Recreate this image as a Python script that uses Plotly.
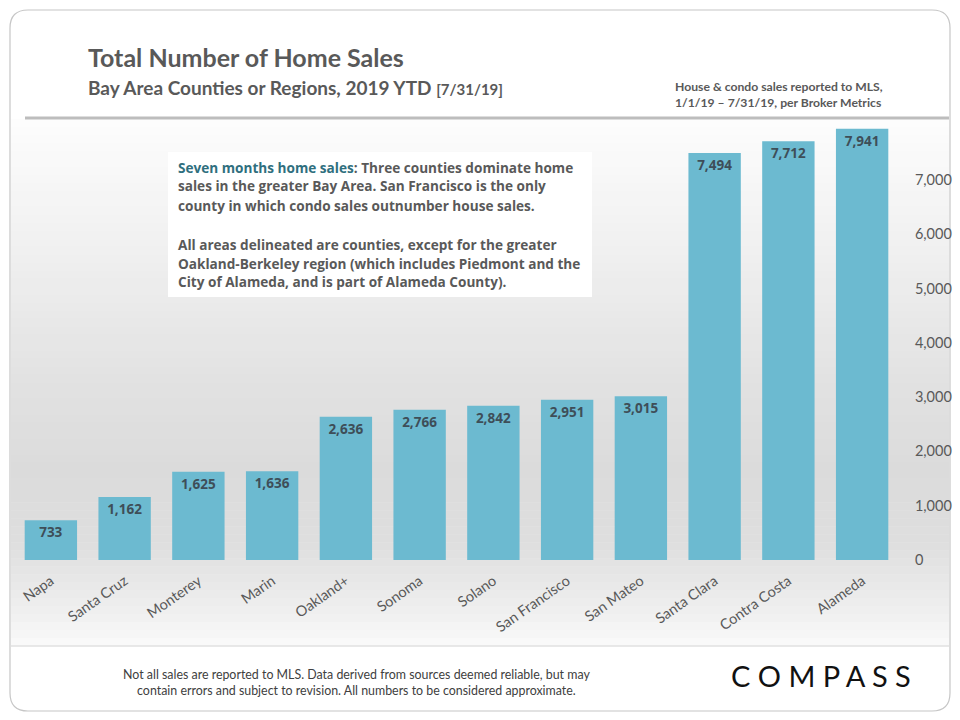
import plotly.graph_objects as go

# data
regions = ['Napa', 'Santa Cruz', 'Monterey', 'Marin', 'Oakland+', 'Sonoma', 'Solano',
           'San Francisco', 'San Mateo', 'Santa Clara', 'Contra Costa', 'Alameda']
sales = [733, 1162, 1625, 1636, 2636, 2766, 2842, 2951, 3015, 7494, 7712, 7941]
y_ticks = [0, 1000, 2000, 3000, 4000, 5000, 6000, 7000]

note_lines = [
    '<span style="color:#2f6f7e">Seven months home sales</span>: Three counties dominate home',
    'sales in the greater Bay Area. San Francisco is the only',
    'county in which condo sales outnumber house sales.',
    'All areas delineated are counties, except for the greater',
    'Oakland-Berkeley region (which includes Piedmont and the',
    'City of Alameda, and is part of Alameda County).',
]
note_rows = [167, 186, 205, 244, 263, 282]

W, H = 960, 720
GREY = '#595959'
FONT = 'Lato, Open Sans, sans-serif'


def px(x):
    return x / W


def py(y):
    return 1 - y / H


fig = go.Figure()
fig.add_trace(go.Bar(
    x=regions, y=sales,
    marker=dict(color='#6cbad0', line=dict(width=0)),
    text=['{:,}'.format(v) for v in sales],
    textposition='inside', insidetextanchor='end', textangle=0,
    constraintext='none',
    textfont=dict(family='Open Sans, sans-serif', size=13.5, color='#3e4e58', weight='bold'),
    cliponaxis=False,
))

shapes = []

# card outline with rounded corners
x0, x1, y0, y1, r = px(10), px(950), py(10), py(711), 18
rx, ry = r / W, r / H
shapes.append(dict(
    type='path', xref='paper', yref='paper', layer='below',
    path=(f'M {x0 + rx},{y0} L {x1 - rx},{y0} Q {x1},{y0} {x1},{y0 - ry} '
          f'L {x1},{y1 + ry} Q {x1},{y1} {x1 - rx},{y1} L {x0 + rx},{y1} '
          f'Q {x0},{y1} {x0},{y1 + ry} L {x0},{y0 - ry} Q {x0},{y0} {x0 + rx},{y0} Z'),
    line=dict(color='#c6c6c6', width=1.2), fillcolor='white'))

# soft grey background gradient behind the bars (white -> grey -> white)
stops = [(118, 253), (250, 240), (380, 226), (470, 219), (540, 222), (600, 236), (646, 250)]
n = 66
top, bot = 119, 646
for i in range(n):
    ya = top + (bot - top) * i / n
    yb = top + (bot - top) * (i + 1) / n
    ym = (ya + yb) / 2
    for (s0, c0), (s1, c1) in zip(stops[:-1], stops[1:]):
        if s0 <= ym <= s1:
            c = round(c0 + (c1 - c0) * (ym - s0) / (s1 - s0))
            break
    shapes.append(dict(type='rect', xref='paper', yref='paper', layer='below',
                       x0=px(11), x1=px(949), y0=py(yb + 0.6), y1=py(ya),
                       line=dict(width=0), fillcolor=f'rgb({c},{c},{c})'))

# header and footer rules
shapes.append(dict(type='line', xref='paper', yref='paper', layer='below',
                   x0=px(25), x1=px(949), y0=py(118), y1=py(118),
                   line=dict(color='#bdbdbd', width=3)))
shapes.append(dict(type='line', xref='paper', yref='paper', layer='below',
                   x0=px(11), x1=px(949), y0=py(646), y1=py(646),
                   line=dict(color='#d4d4d4', width=1)))

# white commentary box
shapes.append(dict(type='rect', xref='paper', yref='paper', layer='below',
                   x0=px(168), x1=px(592), y0=py(297), y1=py(152),
                   line=dict(width=0), fillcolor='white'))

annotations = [
    dict(text='<b>Total Number of Home Sales</b>', x=px(86), y=py(57),
         font=dict(size=25, color=GREY)),
    dict(text='<b>Bay Area Counties or Regions, 2019 YTD </b><span style="font-size:15px"><b>[7/31/19]</b></span>',
         x=px(86), y=py(87), font=dict(size=19, color=GREY)),
    dict(text='<b>House &amp; condo sales reported to MLS,<br>1/1/19 \u2013 7/31/19, per Broker Metrics</b>',
         x=px(673), y=py(95), font=dict(size=12.2, color=GREY)),
    dict(text=('Not all sales are reported to MLS. Data derived from sources deemed reliable, but may<br>'
               'contain errors and subject to revision. All numbers to be considered approximate.'),
         x=px(356), y=py(682), xanchor='center', align='center',
         font=dict(size=12.4, color='#404040')),
    dict(text='C O M P A S S', x=px(821), y=py(675), xanchor='center',
         font=dict(size=29, color='#111111', family='Lato, sans-serif')),
]
for line, row in zip(note_lines, note_rows):
    annotations.append(dict(text='<b>' + line + '</b>', x=px(176), y=py(row),
                            font=dict(size=13.6, color=GREY, family='Open Sans, sans-serif')))
for a in annotations:
    a.setdefault('xref', 'paper')
    a.setdefault('yref', 'paper')
    a.setdefault('xanchor', 'left')
    a.setdefault('yanchor', 'middle')
    a.setdefault('align', 'left')
    a.setdefault('showarrow', False)

fig.update_layout(
    width=W, height=H,
    margin=dict(l=0, r=0, t=0, b=0),
    paper_bgcolor='white', plot_bgcolor='rgba(0,0,0,0)',
    font=dict(family=FONT, color=GREY),
    showlegend=False, bargap=0.29,
    shapes=shapes, annotations=annotations,
    xaxis=dict(domain=[px(14), px(899)], tickangle=-35, showgrid=False, zeroline=False,
               showline=False, ticks='outside', ticklen=6, tickcolor='rgba(0,0,0,0)',
               automargin=False,
               tickfont=dict(size=14.5, color=GREY, family=FONT)),
    yaxis=dict(domain=[py(560), py(125.6)], range=[0, 8000], side='right',
               tickvals=y_ticks, tickformat=',', showgrid=False, zeroline=False,
               showline=False, ticks='outside', ticklen=12, tickcolor='rgba(0,0,0,0)',
               automargin=False,
               tickfont=dict(size=14.5, color=GREY, family=FONT)),
)

# drop the page's default body margin so the figure fills the window exactly
page_js = "document.body.style.margin='0';"
fig.write_html('out.html', post_script=page_js, config={'displayModeBar': False})
